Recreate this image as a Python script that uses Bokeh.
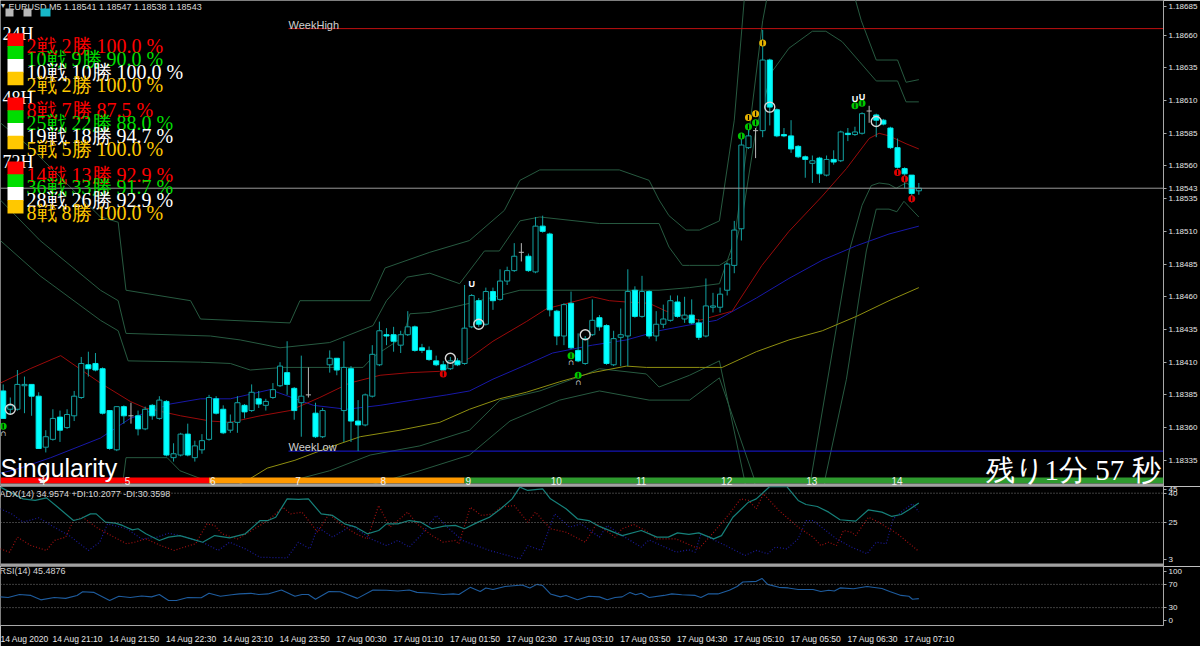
import math
from bokeh.plotting import figure
from bokeh.layouts import column
from bokeh.models import (Range1d, FixedTicker, PrintfTickFormatter, Label,
                          BoxAnnotation, Span)
from bokeh.core.properties import value
from bokeh.embed import file_html
from bokeh.resources import INLINE

# ---------------- data (EURUSD M5) ----------------
open_ = [1.18388, 1.18374, 1.18374, 1.18392, 1.18393, 1.18384, 1.18345, 1.18351, 1.18368, 1.18360,
         1.18369, 1.18383, 1.18408, 1.18409, 1.18405, 1.18373, 1.18343, 1.18376, 1.18369, 1.18369,
         1.18359, 1.18377, 1.18367, 1.18380, 1.18337, 1.18339, 1.18355, 1.18337, 1.18343, 1.18351,
         1.18382, 1.18374, 1.18358, 1.18364, 1.18377, 1.18373, 1.18382, 1.18377, 1.18383, 1.18392,
         1.18402, 1.18390, 1.18379, 1.18385, 1.18371, 1.18353, 1.18408, 1.18413, 1.18373, 1.18405,
         1.18365, 1.18362, 1.18384, 1.18408, 1.18431, 1.18431, 1.18423, 1.18431, 1.18437, 1.18421,
         1.18419, 1.18411, 1.18408, 1.18405, 1.18411, 1.18409, 1.18437, 1.18457, 1.18439, 1.18464,
         1.18458, 1.18472, 1.18480, 1.18494, 1.18491, 1.18479, 1.18514, 1.18508, 1.18449, 1.18430,
         1.18455, 1.18419, 1.18409, 1.18431, 1.18444, 1.18438, 1.18408, 1.18429, 1.18430, 1.18465,
         1.18445, 1.18464, 1.18430, 1.18439, 1.18442, 1.18456, 1.18443, 1.18446, 1.18440, 1.18430,
         1.18452, 1.18452, 1.18465, 1.18484, 1.18512, 1.18574, 1.18587, 1.18587, 1.18641, 1.18603,
         1.18584, 1.18583, 1.18575, 1.18567, 1.18562, 1.18566, 1.18553, 1.18565, 1.18564, 1.18585,
         1.18584, 1.18585, 1.18602, 1.18599, 1.18595, 1.18589, 1.18574, 1.18558, 1.18553, 1.18541]
high = [1.18393, 1.18383, 1.18404, 1.18399, 1.18393, 1.18387, 1.18358, 1.18374, 1.18373, 1.18374,
        1.18388, 1.18414, 1.18418, 1.18417, 1.18406, 1.18373, 1.18376, 1.18377, 1.18379, 1.18373,
        1.18376, 1.18378, 1.18384, 1.18381, 1.18348, 1.18356, 1.18363, 1.18350, 1.18355, 1.18385,
        1.18384, 1.18377, 1.18370, 1.18384, 1.18378, 1.18393, 1.18388, 1.18382, 1.18394, 1.18410,
        1.18426, 1.18391, 1.18415, 1.18406, 1.18379, 1.18375, 1.18419, 1.18413, 1.18426, 1.18407,
        1.18381, 1.18386, 1.18423, 1.18441, 1.18436, 1.18437, 1.18434, 1.18449, 1.18438, 1.18424,
        1.18422, 1.18415, 1.18411, 1.18414, 1.18413, 1.18469, 1.18462, 1.18459, 1.18467, 1.18467,
        1.18481, 1.18483, 1.18501, 1.18501, 1.18493, 1.18521, 1.18522, 1.18509, 1.18450, 1.18455,
        1.18464, 1.18432, 1.18430, 1.18458, 1.18446, 1.18439, 1.18434, 1.18451, 1.18481, 1.18468,
        1.18476, 1.18465, 1.18449, 1.18454, 1.18461, 1.18461, 1.18460, 1.18458, 1.18443, 1.18474,
        1.18463, 1.18467, 1.18486, 1.18518, 1.18585, 1.18590, 1.18589, 1.18664, 1.18642, 1.18604,
        1.18589, 1.18595, 1.18576, 1.18568, 1.18568, 1.18567, 1.18568, 1.18572, 1.18587, 1.18589,
        1.18590, 1.18601, 1.18606, 1.18600, 1.18596, 1.18590, 1.18581, 1.18559, 1.18553, 1.18547]
low = [1.18367, 1.18370, 1.18373, 1.18371, 1.18369, 1.18344, 1.18341, 1.18350, 1.18349, 1.18359,
       1.18365, 1.18382, 1.18399, 1.18403, 1.18370, 1.18343, 1.18342, 1.18363, 1.18363, 1.18354,
       1.18358, 1.18366, 1.18366, 1.18338, 1.18334, 1.18338, 1.18338, 1.18334, 1.18340, 1.18350,
       1.18370, 1.18355, 1.18356, 1.18356, 1.18367, 1.18372, 1.18375, 1.18373, 1.18382, 1.18391,
       1.18385, 1.18366, 1.18353, 1.18383, 1.18352, 1.18352, 1.18402, 1.18400, 1.18349, 1.18349,
       1.18342, 1.18361, 1.18383, 1.18407, 1.18423, 1.18418, 1.18417, 1.18430, 1.18418, 1.18417,
       1.18411, 1.18407, 1.18403, 1.18404, 1.18407, 1.18408, 1.18436, 1.18437, 1.18438, 1.18450,
       1.18457, 1.18469, 1.18479, 1.18487, 1.18479, 1.18478, 1.18509, 1.18445, 1.18423, 1.18423,
       1.18420, 1.18410, 1.18408, 1.18430, 1.18434, 1.18408, 1.18407, 1.18407, 1.18407, 1.18444,
       1.18444, 1.18428, 1.18426, 1.18436, 1.18441, 1.18444, 1.18440, 1.18439, 1.18427, 1.18429,
       1.18448, 1.18448, 1.18461, 1.18478, 1.18503, 1.18573, 1.18566, 1.18582, 1.18591, 1.18582,
       1.18582, 1.18570, 1.18566, 1.18551, 1.18547, 1.18547, 1.18552, 1.18561, 1.18563, 1.18579,
       1.18583, 1.18584, 1.18593, 1.18582, 1.18591, 1.18573, 1.18558, 1.18543, 1.18532, 1.18538]
close = [1.18367, 1.18377, 1.18393, 1.18393, 1.18384, 1.18344, 1.18353, 1.18367, 1.18358, 1.18370,
         1.18384, 1.18409, 1.18405, 1.18404, 1.18371, 1.18344, 1.18376, 1.18369, 1.18369, 1.18359,
         1.18374, 1.18369, 1.18381, 1.18339, 1.18340, 1.18355, 1.18339, 1.18346, 1.18350, 1.18383,
         1.18371, 1.18356, 1.18364, 1.18379, 1.18372, 1.18387, 1.18378, 1.18380, 1.18389, 1.18407,
         1.18393, 1.18373, 1.18384, 1.18385, 1.18353, 1.18373, 1.18413, 1.18404, 1.18406, 1.18365,
         1.18362, 1.18385, 1.18416, 1.18434, 1.18430, 1.18426, 1.18431, 1.18437, 1.18419, 1.18419,
         1.18412, 1.18408, 1.18404, 1.18411, 1.18408, 1.18436, 1.18461, 1.18439, 1.18464, 1.18457,
         1.18472, 1.18480, 1.18491, 1.18494, 1.18480, 1.18514, 1.18510, 1.18450, 1.18430, 1.18454,
         1.18421, 1.18411, 1.18428, 1.18442, 1.18437, 1.18409, 1.18428, 1.18431, 1.18464, 1.18445,
         1.18464, 1.18430, 1.18439, 1.18443, 1.18457, 1.18445, 1.18446, 1.18440, 1.18429, 1.18453,
         1.18453, 1.18462, 1.18485, 1.18511, 1.18576, 1.18583, 1.18587, 1.18641, 1.18605, 1.18583,
         1.18583, 1.18573, 1.18567, 1.18565, 1.18564, 1.18554, 1.18565, 1.18563, 1.18586, 1.18584,
         1.18586, 1.18600, 1.18602, 1.18595, 1.18592, 1.18574, 1.18559, 1.18554, 1.18539, 1.18543]

# moving averages (bar index, price)
ma_red_x = [-0.4, 3.8, 8.1, 13.7, 17.9, 20.0, 25.0, 29.2, 32.0, 36.2, 40.4, 44.6, 48.8, 53.1, 57.3,
            61.5, 65.7, 69.0, 73.7, 76.6, 78.8, 83.0, 85.4, 87.8, 91.0, 93.4, 96.2, 98.1, 102.7,
            106.9, 110.7, 115.4, 118.8, 122.0, 123.4, 124.8, 127.2, 129.0]
ma_red_y = [1.18394, 1.18405, 1.18415, 1.18394, 1.18380, 1.18375, 1.18369, 1.18365, 1.18364, 1.18369,
            1.18373, 1.18383, 1.18394, 1.18400, 1.18402, 1.18403, 1.18413, 1.18426, 1.18441, 1.18451,
            1.18454, 1.18460, 1.18457, 1.18456, 1.18455, 1.18449, 1.18445, 1.18442, 1.18449, 1.18484,
            1.18510, 1.18537, 1.18558, 1.18581, 1.18585, 1.18583, 1.18577, 1.18573]
ma_blue_x = [-0.4, 2.4, 6.7, 13.7, 17.9, 23.5, 27.8, 32.0, 37.6, 43.7, 48.4, 53.1, 57.7, 62.5, 65.7,
             69.0, 73.7, 77.4, 83.0, 87.8, 92.4, 96.2, 100.5, 106.1, 110.7, 115.4, 120.2, 124.8, 129.0]
ma_blue_y = [1.18325, 1.18329, 1.18337, 1.18352, 1.18367, 1.18378, 1.18382, 1.18382, 1.18389, 1.18377,
             1.18374, 1.18377, 1.18381, 1.18385, 1.18388, 1.18397, 1.18408, 1.18417, 1.18423, 1.18427,
             1.18434, 1.18438, 1.18442, 1.18459, 1.18474, 1.18488, 1.18499, 1.18508, 1.18514]
ma_yel_x = [32.0, 34.8, 37.2, 41.1, 46.0, 50.3, 55.9, 61.5, 65.7, 69.9, 73.7, 78.4, 83.0, 87.8, 90.6,
            98.1, 101.3, 106.1, 110.7, 115.4, 120.2, 124.8, 129.0]
ma_yel_y = [1.18313, 1.18321, 1.18329, 1.18335, 1.18345, 1.18353, 1.18358, 1.18364, 1.18374, 1.18382,
            1.18387, 1.18395, 1.18402, 1.18407, 1.18406, 1.18406, 1.18406, 1.18418, 1.18427, 1.18434,
            1.18445, 1.18457, 1.18467]

# envelope (band) lines (bar index, price)
env_a_x = [-0.4, 5.2, 13.7, 16.2, 17.3, 29.2, 33.4, 39.0, 46.0, 52.1, 54.0, 56.9, 60.1, 64.3, 67.8,
           69.9, 72.8, 75.6, 84.0, 92.4, 93.8, 95.7, 96.7, 100.9, 102.7, 104.1, 106.1, 108.3, 110.7,
           114.0, 115.9, 118.2, 120.6, 123.0, 126.0, 127.2, 129.0]
env_a_y = [1.18534, 1.18503, 1.18465, 1.18457, 1.18432, 1.18430, 1.18427, 1.18421, 1.18425, 1.18438,
           1.18457, 1.18475, 1.18478, 1.18470, 1.18495, 1.18495, 1.18518, 1.18521, 1.18516, 1.18516,
           1.18498, 1.18484, 1.18484, 1.18484, 1.18490, 1.18520, 1.18589, 1.18632, 1.18650, 1.18663,
           1.18663, 1.18655, 1.18640, 1.18625, 1.18625, 1.18609, 1.18609]
env_b_x = [-0.4, 5.2, 13.7, 16.2, 17.6, 27.8, 32.0, 34.8, 39.4, 50.7, 52.1, 56.3, 57.3, 60.1, 65.7,
           72.8, 84.0, 92.4, 96.7, 100.9, 103.0, 105.1, 107.0, 108.6, 118.5, 120.9, 123.0, 126.0,
           127.2, 129.0]
env_b_y = [1.18503, 1.18476, 1.18442, 1.18434, 1.18411, 1.18410, 1.18409, 1.18404, 1.18406, 1.18406,
           1.18414, 1.18429, 1.18447, 1.18448, 1.18455, 1.18465, 1.18465, 1.18465, 1.18467, 1.18470,
           1.18503, 1.18587, 1.18671, 1.18717, 1.18717, 1.18671, 1.18641, 1.18641, 1.18624, 1.18626]
env_c_x = [-0.4, 4.3, 5.7, 13.7, 16.2, 17.3, 26.4, 27.8, 40.4, 41.8, 51.7, 53.8, 60.1, 65.7, 70.6,
           72.8, 75.6, 86.8, 91.0, 92.4, 93.8, 96.2, 98.1, 100.9, 103.0, 104.4, 106.5, 129.0]
env_c_y = [1.18593, 1.18572, 1.18564, 1.18521, 1.18517, 1.18465, 1.18457, 1.18443, 1.18440, 1.18457,
           1.18457, 1.18482, 1.18494, 1.18503, 1.18526, 1.18549, 1.18557, 1.18557, 1.18549, 1.18534,
           1.18522, 1.18511, 1.18511, 1.18518, 1.18595, 1.18687, 1.18732, 1.18732]
env_d_x = [-0.4, 16.2, 17.3, 23.1, 24.9, 27.8, 41.8, 46.0, 51.7, 58.7, 65.7, 70.0, 75.6, 82.2, 84.0,
           90.6, 92.4, 96.7, 100.9, 104.4, 106.5, 112.1, 113.8, 119.2, 121.0, 122.3, 123.4, 124.8,
           125.8, 127.2, 129.0]
env_d_y = [1.18290, 1.18290, 1.18337, 1.18337, 1.18327, 1.18321, 1.18321, 1.18327, 1.18339, 1.18346,
           1.18358, 1.18381, 1.18388, 1.18401, 1.18405, 1.18401, 1.18391, 1.18400, 1.18411, 1.18321,
           1.18259, 1.18259, 1.18321, 1.18495, 1.18530, 1.18545, 1.18547, 1.18546, 1.18543, 1.18547,
           1.18542]
env_e_x = [51.7, 58.7, 65.7, 71.4, 78.4, 84.0, 91.0, 96.7, 100.9, 105.8, 107.9, 114.2, 115.8, 118.8,
           121.6, 123.0, 124.8, 125.9, 126.9, 129.0]
env_e_y = [1.18316, 1.18327, 1.18339, 1.18365, 1.18381, 1.18388, 1.18381, 1.18381, 1.18398, 1.18321,
           1.18228, 1.18228, 1.18321, 1.18397, 1.18495, 1.18527, 1.18527, 1.18525, 1.18533, 1.18521]

# signal marks
sig_x = [0, 62, 80, 81, 104, 105, 105, 106, 106, 107, 120, 121, 126, 127, 128]
sig_y = [1.18361, 1.18401, 1.18415, 1.18400, 1.18583, 1.18590, 1.18597, 1.18600, 1.18593, 1.18654,
         1.18606, 1.18608, 1.18555, 1.18550, 1.18535]
sig_c = ["#00c800", "#e00000", "#00c800", "#00c800", "#00c800", "#00c800", "#e8b400", "#e8b400",
         "#00c800", "#e8b400", "#00c800", "#00c800", "#e00000", "#e00000", "#e00000"]
sigw_dn_x = [0, 80, 81]
sigw_dn_y = [1.18356, 1.18410, 1.18395]
sigw_up_x = [66, 120, 121]
sigw_up_y = [1.18470, 1.18611, 1.18613]
ring_x = [1, 63, 67, 82, 108, 123]
ring_y = [1.18374, 1.18413, 1.18439, 1.18431, 1.18605, 1.18594]

WEEK_START = 40.2
WEEK_HIGH = 1.18665
WEEK_LOW = 1.18342
BID = 1.18543

# hour band
hour_bars = [5, 17, 29, 41, 53, 65, 77, 89, 101, 113, 125]
hour_text = ["4", "5", "6", "7", "8", "9", "10", "11", "12", "13", "14"]
band_edges = [29, 65]
band_colors = ["#ff0000", "#ff9900", "#2e9a2e"]

# stats
periods = ["24H", "48H", "72H"]
trades = [[2, 10, 10, 2], [8, 25, 19, 5], [14, 36, 28, 8]]
wins = [[2, 9, 10, 2], [7, 22, 18, 5], [13, 33, 26, 8]]
rates = [[100.0, 90.0, 100.0, 100.0], [87.5, 88.0, 94.7, 100.0], [92.9, 91.7, 92.9, 100.0]]
stat_colors = ["#ff0000", "#00dd00", "#ffffff", "#ffc800"]

# ADX(14)
adx_x = [-0.4, 2.8, 4.5, 6.1, 7.7, 9.9, 10.9, 12.3, 13.1, 14.4, 15.8, 16.8, 18.2, 19.0, 20.1, 22.0,
         23.3, 24.9, 26.5, 28.1, 29.8, 31.9, 34.1, 36.2, 37.3, 38.4, 40.0, 41.6, 43.0, 44.8, 46.4,
         48.1, 49.7, 51.3, 52.9, 54.0, 55.6, 57.2, 58.8, 60.4, 62.1, 63.7, 65.0, 66.9, 68.5, 70.1,
         71.7, 72.8, 73.9, 76.0, 77.1, 79.3, 80.9, 82.5, 84.0, 87.2, 89.9, 92.1, 93.7, 95.0, 96.6,
         98.0, 100.1, 101.2, 102.8, 105.0, 106.1, 108.0, 110.4, 112.0, 113.1, 114.7, 116.3, 117.9,
         120.1, 121.9, 123.8, 125.2, 126.5, 127.6, 129.0]
adx_v = [43.1, 37.1, 36.3, 37.6, 32.8, 26.0, 26.9, 29.4, 29.4, 25.2, 24.7, 23.5, 21.2, 21.8, 19.2, 15.8,
         17.5, 18.3, 16.6, 14.9, 18.3, 17.1, 19.2, 26.0, 26.0, 27.7, 37.1, 36.8, 37.1, 29.4, 28.6,
         24.3, 22.6, 19.2, 20.9, 24.3, 24.3, 26.0, 25.2, 21.8, 23.1, 23.5, 21.8, 25.2, 27.7, 32.0,
         37.1, 43.1, 41.4, 42.2, 37.1, 32.0, 26.9, 26.0, 23.0, 18.3, 20.9, 17.5, 17.5, 19.7, 18.9,
         19.7, 16.6, 18.3, 27.7, 35.4, 37.1, 43.4, 43.4, 36.3, 34.2, 33.2, 30.3, 26.4,
         25.7, 31.5, 30.3, 28.1, 29.1, 31.5, 35.0]
pdi_x = [-0.4, 0.9, 2.0, 3.9, 6.1, 7.2, 8.8, 9.9, 11.2, 13.1, 15.2, 17.4, 18.5, 20.1, 22.2, 24.1, 25.5,
         27.1, 28.7, 29.8, 30.8, 33.0, 34.6, 37.3, 39.4, 40.5, 42.1, 44.3, 45.9, 47.5, 49.7, 51.3,
         52.9, 54.5, 57.0, 58.3, 60.4, 62.0, 63.7, 64.2, 65.8, 67.4, 69.0, 70.1, 72.0, 73.9, 75.0,
         77.1, 79.3, 82.0, 83.6, 86.2, 87.2, 88.8, 90.5, 92.1, 94.8, 98.0, 100.1, 102.3, 103.9,
         105.0, 106.1, 107.1, 109.3, 112.0, 114.1, 115.2, 116.3, 117.4, 118.4, 119.5, 120.1, 121.9,
         123.3, 126.0, 129.0]
pdi_v = [11.5, 9.8, 17.5, 13.2, 10.7, 15.8, 17.5, 26.0, 27.7, 22.6, 18.3, 14.1, 14.9, 16.6, 13.2, 10.7,
         12.4, 14.1, 24.3, 23.5, 19.2, 16.6, 20.0, 26.0, 32.8, 29.4, 30.3, 20.0, 29.4, 24.3, 19.2,
         16.6, 33.7, 22.6, 30.3, 24.3, 18.3, 14.9, 15.8, 14.1, 32.8, 28.6, 29.4, 32.8, 33.7, 25.2,
         30.3, 21.8, 20.0, 14.9, 24.3, 17.5, 21.8, 24.0, 20.9, 16.6, 16.6, 11.5, 20.0, 29.4, 37.1,
         36.3, 32.0, 39.7, 31.1, 22.6, 17.5, 13.2, 14.9, 13.2, 20.9, 20.0, 18.3, 27.7, 25.2, 19.2, 10.2]
mdi_x = [-0.4, 1.2, 2.8, 5.0, 7.2, 9.3, 12.0, 13.6, 14.7, 17.4, 19.5, 21.7, 23.3, 24.9, 28.1, 30.3,
         31.9, 34.1, 36.2, 40.0, 41.6, 43.2, 44.3, 46.4, 49.1, 51.8, 54.0, 55.6, 57.2, 58.8, 61.0,
         62.6, 64.7, 68.5, 72.8, 73.9, 75.8, 77.7, 79.8, 81.4, 84.0, 85.1, 87.2, 89.9, 91.0, 94.8,
         96.6, 97.5, 98.3, 101.8, 104.5, 106.1, 107.7, 108.8, 110.4, 112.0, 113.1, 114.1, 117.4,
         119.5, 121.7, 123.0, 124.4, 125.4, 127.1, 128.1, 129.0]
mdi_v = [32.0, 29.4, 25.2, 27.4, 22.6, 18.3, 10.7, 14.9, 24.3, 21.8, 16.6, 17.5, 19.5, 18.3, 14.9, 10.7,
         14.9, 11.5, 7.2, 6.9, 14.9, 11.5, 22.6, 17.5, 23.5, 16.6, 13.2, 15.8, 12.4, 18.3, 28.6,
         22.6, 15.8, 10.7, 6.4, 13.2, 10.7, 29.4, 22.6, 24.3, 17.5, 23.5, 18.3, 12.4, 16.1, 9.8,
         11.0, 9.8, 19.2, 13.2, 8.1, 10.7, 9.0, 12.4, 11.5, 16.6, 26.0, 26.0, 16.6,
         12.4, 9.0, 14.9, 14.1, 26.9, 32.0, 34.6, 30.4]
# RSI(14)
rsi_x = [-0.4, 0.7, 2.3, 3.9, 5.3, 7.2, 8.8, 10.4, 11.2, 12.8, 15.0, 16.3, 17.9, 19.5, 20.9, 22.0,
         23.3, 24.4, 26.0, 27.9, 29.0, 30.6, 32.2, 33.3, 34.9, 36.0, 37.3, 39.2, 41.1, 42.1, 43.0,
         44.0, 45.9, 47.5, 49.9, 52.1, 54.0, 55.6, 57.2, 58.3, 59.9, 62.0, 63.4, 64.2, 65.8, 67.2,
         68.0, 69.0, 70.7, 73.1, 74.2, 75.2, 76.0, 77.1, 78.5, 79.3, 80.9, 82.5, 84.0, 85.1, 86.2,
         87.2, 88.3, 89.1, 89.9, 91.0, 93.1, 94.2, 95.6, 97.5, 98.3, 99.3, 100.7, 102.3, 103.4,
         104.2, 106.1, 106.9, 107.7, 109.3, 110.6, 112.0, 114.1, 115.2, 116.3, 117.1, 117.9, 119.8,
         121.7, 123.8, 124.9, 126.5, 127.6, 128.1, 129.0]
rsi_v = [48.5, 47.5, 52.6, 51.0, 43.4, 47.5, 45.9, 51.0, 57.2, 56.2, 42.3, 49.5, 47.5, 50.0, 48.5, 52.6,
         42.3, 42.3, 47.5, 46.9, 54.6, 49.5, 52.1, 53.6, 54.6, 52.6, 53.6, 60.3, 49.5, 52.6, 52.6,
         44.4, 57.7, 57.2, 45.9, 60.3, 59.8, 58.7, 60.3, 56.2, 55.1, 52.6, 53.6, 52.6, 64.9, 57.7,
         63.9, 61.3, 66.4, 69.0, 63.9, 70.0, 68.0, 53.6, 48.5, 51.0, 43.4, 49.5, 48.5, 43.4, 47.5,
         48.5, 56.2, 52.1, 54.6, 47.5, 51.0, 53.6, 52.1, 51.0, 47.5, 53.6, 53.6, 59.8, 66.4,
         74.1, 75.2, 80.3, 70.0, 64.9, 63.9, 61.3, 61.3, 57.7, 59.8, 58.7, 63.9, 62.4,
         66.4, 62.8, 57.7, 51.0, 49.5, 44.4, 45.5]

# time axis
xlab_bars = [-1.25] + [7 + 8 * k for k in range(16)]
xlab_text = ["14 Aug 2020", "14 Aug 21:10", "14 Aug 21:50", "14 Aug 22:30", "14 Aug 23:10",
             "14 Aug 23:50", "17 Aug 00:30", "17 Aug 01:10", "17 Aug 01:50", "17 Aug 02:30",
             "17 Aug 03:10", "17 Aug 03:50", "17 Aug 04:30", "17 Aug 05:10", "17 Aug 05:50",
             "17 Aug 06:30", "17 Aug 07:10"]

# price scale: regular ticks, the top one (1.18685) is nudged inside the window like MT4 does
price_ticks = [1.18335, 1.18360, 1.18385, 1.18410, 1.18435, 1.18460, 1.18485, 1.18510,
               1.18535, 1.18560, 1.18585, 1.18610, 1.18635, 1.18660]
price_top_tick = 1.18682
price_top_text = "1.18685"

# indicator scale labels (MT4 clamps min/max labels inside the window)
adx_ticks = {6: "3", 25: "25", 40: "40", 42: "45"}
rsi_ticks = {8: "0", 30: "30", 70: "70", 92: "100"}

# ---------------- layout ----------------
W = 1200
AX = 35
H_MAIN, H_ADX, H_RSI, XAX_H = 486, 80, 80, 14
X0, X1 = -0.38, 163.47
xr = Range1d(X0, X1)

BG = "black"
AXC = "#a8a8a8"
TXT = "#e6e6e6"
SEP = "#a0a0a0"
BAND_LINE = "#275a40"


def make_fig(h, yr, bottom=0):
    f = figure(width=W, height=h, x_range=xr, y_range=yr, toolbar_location=None,
               output_backend="svg", background_fill_color=BG, border_fill_color=BG,
               outline_line_color=None, min_border_left=0, min_border_right=AX,
               min_border_top=0, min_border_bottom=bottom, y_axis_location="right",
               x_axis_location=("below" if bottom else None))
    f.grid.visible = False
    ax = f.yaxis[0]
    ax.axis_line_color = AXC
    ax.major_tick_line_color = AXC
    ax.major_tick_out = 3
    ax.major_tick_in = 0
    ax.minor_tick_line_color = None
    ax.major_label_text_color = TXT
    ax.major_label_text_font = "Liberation Sans"
    ax.major_label_text_font_size = "8px"
    ax.major_label_standoff = 2
    return f


# ---- main price panel ----
P_TOP = 1.186865
P_BOT = P_TOP - H_MAIN * 0.000007645
p = make_fig(H_MAIN, Range1d(P_BOT, P_TOP))
p.yaxis[0].ticker = FixedTicker(ticks=price_ticks + [price_top_tick, BID])
p.yaxis[0].formatter = PrintfTickFormatter(format="%.5f")
p.yaxis[0].major_label_overrides = {price_top_tick: price_top_text}


def sy(y):
    return H_MAIN - y


for bx, by in [(env_a_x, env_a_y), (env_b_x, env_b_y), (env_c_x, env_c_y),
               (env_d_x, env_d_y), (env_e_x, env_e_y)]:
    p.line(bx, by, line_color=BAND_LINE, line_width=1)

p.line(ma_yel_x, ma_yel_y, line_color="#8f8f10", line_width=1)
p.line(ma_blue_x, ma_blue_y, line_color="#1818a8", line_width=1)
p.line(ma_red_x, ma_red_y, line_color="#9a0a0a", line_width=1)

# week high / low
p.segment(x0=[WEEK_START], x1=[X1 + 5], y0=[WEEK_HIGH], y1=[WEEK_HIGH], line_color="#c01010", line_width=1)
p.segment(x0=[WEEK_START], x1=[X1 + 5], y0=[WEEK_LOW], y1=[WEEK_LOW], line_color="#1a1ae0", line_width=1)
p.add_layout(Label(x=WEEK_START, y=WEEK_HIGH, text="WeekHigh", text_color="#d0d0d0",
                   text_font="Liberation Sans", text_font_size="11px", text_baseline="alphabetic",
                   y_offset=4))
p.add_layout(Label(x=WEEK_START, y=WEEK_LOW, text="WeekLow", text_color="#d0d0d0",
                   text_font="Liberation Sans", text_font_size="11px", text_baseline="alphabetic",
                   y_offset=4))

# current bid line
p.add_layout(Span(location=BID, dimension="width", line_color="#9a9a9a", line_width=1))

# candles
idx = list(range(len(open_)))
WICK = "#12a0a0"
bull = [i for i in idx if close[i] > open_[i]]
bear = [i for i in idx if close[i] < open_[i]]
doji = [i for i in idx if close[i] == open_[i]]
nd = bull + bear
p.segment(x0=nd, x1=nd, y0=[low[i] for i in nd], y1=[high[i] for i in nd], line_color=WICK, line_width=1)
p.segment(x0=doji, x1=doji, y0=[low[i] for i in doji], y1=[high[i] for i in doji],
          line_color="#b8b8b8", line_width=1)
p.segment(x0=[i - 0.36 for i in doji], x1=[i + 0.36 for i in doji], y0=[open_[i] for i in doji],
          y1=[open_[i] for i in doji], line_color="#b8b8b8", line_width=1)
p.vbar(x=bull, width=0.72, top=[close[i] for i in bull], bottom=[open_[i] for i in bull],
       fill_color="black", line_color=WICK, line_width=1)
p.vbar(x=bear, width=0.72, top=[open_[i] for i in bear], bottom=[close[i] for i in bear],
       fill_color="#00ffff", line_color="#00e8e8", line_width=1)

# signal marks
p.scatter(sig_x, sig_y, marker="circle", size=7, fill_color=sig_c, line_color=None)
p.scatter(sig_x, sig_y, marker="dash", angle=math.pi / 2, size=5, line_color="black", line_width=1.2)
p.text(sigw_dn_x, sigw_dn_y, text=["\u2229"] * len(sigw_dn_x), text_color="white",
       text_font=value("Liberation Sans"), text_font_size="9px", text_align="center",
       text_baseline="middle")
p.text(sigw_up_x, sigw_up_y, text=["U"] * len(sigw_up_x), text_color="white",
       text_font=value("Liberation Sans"), text_font_size="9px", text_align="center",
       text_baseline="middle", text_font_style="bold")
p.scatter(ring_x, ring_y, marker="circle", size=10, fill_color=None, line_color="#d8d8d8", line_width=1.4)

# bottom hour band
edges = [None] + band_edges + [None]
for k, col in enumerate(band_colors):
    p.add_layout(BoxAnnotation(left=edges[k], right=edges[k + 1], left_units="data", right_units="data",
                               bottom=3, top=9, bottom_units="screen", top_units="screen",
                               fill_color=col, fill_alpha=1.0, line_color=None))
p.add_layout(BoxAnnotation(bottom=0, top=3, bottom_units="screen", top_units="screen",
                           fill_color=SEP, fill_alpha=1.0, line_color=None))
for hb, ht in zip(hour_bars, hour_text):
    p.add_layout(Label(x=hb, y=sy(480), x_units="data", y_units="screen", text=ht, x_offset=1,
                       text_color="#f0f0f0", text_font="Liberation Sans", text_font_size="10px",
                       text_baseline="alphabetic", level="overlay"))

# header
p.add_layout(Label(x=0, y=sy(5), x_units="screen", y_units="screen", text="\u25be",
                   text_color="#d0d0d0", text_font_size="8px", text_baseline="alphabetic"))
p.add_layout(Label(x=8, y=sy(6), x_units="screen", y_units="screen",
                   text="EURUSD,M5  1.18541 1.18547 1.18538 1.18543", text_color="#d8d8d8",
                   text_font="Liberation Sans", text_font_size="9px", text_baseline="alphabetic"))
for l, r, c in [(5, 13, "#b8b8b8"), (23, 31, "#b8b8b8"), (40, 50, "#18b8c8")]:
    p.add_layout(BoxAnnotation(left=l, right=r, top=sy(8), bottom=sy(16), left_units="screen",
                               right_units="screen", top_units="screen", bottom_units="screen",
                               fill_color=c, fill_alpha=1.0, line_color=None))

# stats block
for pi, per in enumerate(periods):
    hb = 33 + pi * 64.1
    p.add_layout(Label(x=2, y=sy(hb), x_units="screen", y_units="screen", text=per,
                       text_color="white", text_font="Liberation Serif", text_font_size="18px",
                       text_baseline="alphabetic"))
    for j in range(4):
        b = hb + 12.8 * (j + 1)
        p.add_layout(BoxAnnotation(left=7, right=23, top=sy(b - 13), bottom=sy(b + 0.5),
                                   left_units="screen", right_units="screen", top_units="screen",
                                   bottom_units="screen", fill_color=stat_colors[j], fill_alpha=1.0,
                                   line_color=None))
        txt = f"{trades[pi][j]}戦 {wins[pi][j]}勝 {rates[pi][j]:.1f} %"
        p.add_layout(Label(x=26, y=sy(b), x_units="screen", y_units="screen", text=txt,
                           text_color=stat_colors[j], text_font="Liberation Serif",
                           text_font_size="20px", text_baseline="alphabetic"))

p.add_layout(Label(x=0, y=sy(467), x_units="screen", y_units="screen", text="Singularity",
                   text_color="white", text_font="Liberation Sans", text_font_size="25px",
                   text_baseline="alphabetic"))
p.add_layout(Label(x=1160, y=sy(469), x_units="screen", y_units="screen", text="残り1分 57 秒",
                   text_color="white", text_font="Liberation Serif", text_font_size="29px",
                   text_align="right", text_baseline="alphabetic"))

# ---- ADX panel ----
ADX_PX = 1.953
ADX_MAX = 40.0 + 6.7 / ADX_PX
ADX_MIN = ADX_MAX - H_ADX / ADX_PX
pa = make_fig(H_ADX, Range1d(ADX_MIN, ADX_MAX))
pa.yaxis[0].ticker = FixedTicker(ticks=list(adx_ticks.keys()))
pa.yaxis[0].major_label_overrides = adx_ticks
for lv in [25, 40]:
    pa.add_layout(Span(location=lv, dimension="width", line_color="#7c7c7c", line_dash="1 2", line_width=1))
pa.line(pdi_x, pdi_v, line_color="#a01010", line_dash="1 2", line_width=1.2)
pa.line(mdi_x, mdi_v, line_color="#1a1a9a", line_dash="1 2", line_width=1.2)
pa.line(adx_x, adx_v, line_color="#16807a", line_width=1.2)
pa.add_layout(BoxAnnotation(bottom=0, top=3, bottom_units="screen", top_units="screen",
                            fill_color=SEP, fill_alpha=1.0, line_color=None))
pa.add_layout(Label(x=-1, y=H_ADX - 7, x_units="screen", y_units="screen",
                    text="ADX(14) 34.9574 +DI:10.2077 -DI:30.3598", text_color="#d8d8d8",
                    text_font="Liberation Sans", text_font_size="9px", text_baseline="alphabetic"))

# ---- RSI panel ----
pr = make_fig(H_RSI, Range1d(-0.77, 100.77), bottom=XAX_H)
pr.yaxis[0].ticker = FixedTicker(ticks=list(rsi_ticks.keys()))
pr.yaxis[0].major_label_overrides = rsi_ticks
for lv in [30, 70]:
    pr.add_layout(Span(location=lv, dimension="width", line_color="#7c7c7c", line_dash="1 2", line_width=1))
pr.line(rsi_x, rsi_v, line_color="#1e5c9e", line_width=1.1)
pr.add_layout(Label(x=-1, y=(H_RSI - XAX_H) - 11, x_units="screen", y_units="screen",
                    text="RSI(14) 45.4876", text_color="#d8d8d8",
                    text_font="Liberation Sans", text_font_size="9px", text_baseline="alphabetic"))
xa = pr.xaxis[0]
tick_pos = [b + 3.5 for b in xlab_bars]
xa.ticker = FixedTicker(ticks=tick_pos)
xa.major_label_overrides = {t: s for t, s in zip(tick_pos, xlab_text)}
xa.axis_line_color = AXC
xa.major_tick_line_color = None
xa.minor_tick_line_color = None
xa.major_label_text_color = TXT
xa.major_label_text_font = "Liberation Sans"
xa.major_label_text_font_size = "8.5px"
xa.major_label_standoff = 2

layout = column(p, pa, pr, spacing=0)
open("out.html", "w").write(file_html(layout, INLINE))
